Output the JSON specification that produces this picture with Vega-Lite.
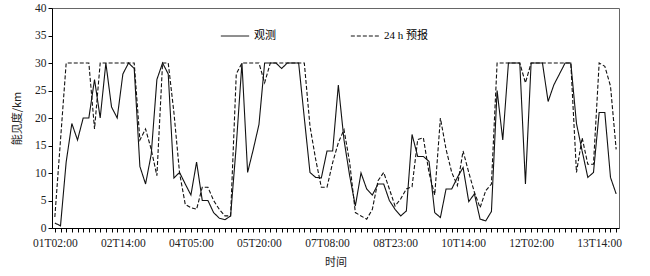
{
  "$schema": "https://vega.github.io/schema/vega-lite/v6.json",
  "autosize": "none",
  "width": 567,
  "height": 220,
  "padding": {"left": 52, "top": 8, "right": 31, "bottom": 48},
  "background": "white",
  "config": {
    "font": "Liberation Serif, Noto Sans CJK SC",
    "view": {"stroke": "#666", "strokeWidth": 1},
    "axis": {"domainColor": "#000", "tickColor": "#000", "labelColor": "#222", "titleColor": "#222", "grid": false, "labelFont": "Liberation Serif, Noto Sans CJK SC", "titleFont": "Noto Sans CJK SC", "titleFontWeight": "normal"}
  },
  "data": {"values": [
    {"time":"01T02:00","观测":0.9,"24 h 预报":2},
    {"time":"01T05:00","观测":0.4,"24 h 预报":16},
    {"time":"01T08:00","观测":12,"24 h 预报":30},
    {"time":"01T11:00","观测":19,"24 h 预报":30},
    {"time":"01T14:00","观测":16,"24 h 预报":30},
    {"time":"01T17:00","观测":20,"24 h 预报":30},
    {"time":"01T20:00","观测":20,"24 h 预报":30},
    {"time":"01T23:00","观测":27,"24 h 预报":18},
    {"time":"02T02:00","观测":20,"24 h 预报":30},
    {"time":"02T05:00","观测":30,"24 h 预报":30},
    {"time":"02T08:00","观测":22,"24 h 预报":30},
    {"time":"02T11:00","观测":20,"24 h 预报":30},
    {"time":"02T14:00","观测":28,"24 h 预报":30},
    {"time":"02T17:00","观测":30,"24 h 预报":30},
    {"time":"02T20:00","观测":29,"24 h 预报":30},
    {"time":"02T23:00","观测":11.2,"24 h 预报":16},
    {"time":"03T02:00","观测":8,"24 h 预报":18},
    {"time":"03T05:00","观测":13.4,"24 h 预报":14.3},
    {"time":"03T08:00","观测":27,"24 h 预报":9.5},
    {"time":"03T11:00","观测":30,"24 h 预报":30},
    {"time":"03T14:00","观测":28,"24 h 预报":30},
    {"time":"03T17:00","观测":9.1,"24 h 预报":21},
    {"time":"03T20:00","观测":10.1,"24 h 预报":10},
    {"time":"03T23:00","观测":8,"24 h 预报":4.3},
    {"time":"04T05:00","观测":6,"24 h 预报":3.7},
    {"time":"04T08:00","观测":12,"24 h 预报":3.4},
    {"time":"04T11:00","观测":5,"24 h 预报":7.4},
    {"time":"04T14:00","观测":5,"24 h 预报":7.4},
    {"time":"04T17:00","观测":2.8,"24 h 预报":5},
    {"time":"04T20:00","观测":1.8,"24 h 预报":3.4},
    {"time":"04T23:00","观测":1.5,"24 h 预报":2.2},
    {"time":"05T02:00","观测":2.2,"24 h 预报":2.2},
    {"time":"05T05:00","观测":15,"24 h 预报":28},
    {"time":"05T08:00","观测":30,"24 h 预报":30},
    {"time":"05T11:00","观测":10.1,"24 h 预报":30},
    {"time":"05T14:00","观测":14.3,"24 h 预报":30},
    {"time":"05T20:00","观测":18.8,"24 h 预报":30},
    {"time":"05T23:00","观测":30,"24 h 预报":26.4},
    {"time":"06T02:00","观测":30,"24 h 预报":30},
    {"time":"06T05:00","观测":30,"24 h 预报":30},
    {"time":"06T08:00","观测":29,"24 h 预报":30},
    {"time":"06T11:00","观测":30,"24 h 预报":30},
    {"time":"06T14:00","观测":30,"24 h 预报":30},
    {"time":"06T17:00","观测":30,"24 h 预报":30},
    {"time":"06T20:00","观测":20,"24 h 预报":30},
    {"time":"06T23:00","观测":10.1,"24 h 预报":18.5},
    {"time":"07T02:00","观测":9.2,"24 h 预报":12.5},
    {"time":"07T05:00","观测":9.1,"24 h 预报":7.4},
    {"time":"07T08:00","观测":14,"24 h 预报":7.4},
    {"time":"07T11:00","观测":14,"24 h 预报":11.9},
    {"time":"07T14:00","观测":26,"24 h 预报":15.5},
    {"time":"07T17:00","观测":16,"24 h 预报":17.9},
    {"time":"07T20:00","观测":9.5,"24 h 预报":11.9},
    {"time":"07T23:00","观测":4,"24 h 预报":2.8},
    {"time":"08T02:00","观测":10,"24 h 预报":2.2},
    {"time":"08T05:00","观测":7.1,"24 h 预报":1.6},
    {"time":"08T08:00","观测":6,"24 h 预报":3.4},
    {"time":"08T11:00","观测":8,"24 h 预报":8.6},
    {"time":"08T14:00","观测":8,"24 h 预报":10.1},
    {"time":"08T17:00","观测":5,"24 h 预报":7.1},
    {"time":"08T23:00","观测":3.4,"24 h 预报":4},
    {"time":"09T02:00","观测":2.2,"24 h 预报":5.3},
    {"time":"09T05:00","观测":3.1,"24 h 预报":7.1},
    {"time":"09T08:00","观测":17,"24 h 预报":7.5},
    {"time":"09T11:00","观测":13,"24 h 预报":16.1},
    {"time":"09T14:00","观测":13,"24 h 预报":16.4},
    {"time":"09T17:00","观测":12.1,"24 h 预报":10},
    {"time":"09T20:00","观测":2.8,"24 h 预报":6},
    {"time":"09T23:00","观测":1.9,"24 h 预报":20},
    {"time":"10T02:00","观测":7.1,"24 h 预报":14.3},
    {"time":"10T05:00","观测":7.1,"24 h 预报":10.1},
    {"time":"10T08:00","观测":9.2,"24 h 预报":7.7},
    {"time":"10T14:00","观测":11,"24 h 预报":14},
    {"time":"10T17:00","观测":4.8,"24 h 预报":10.1},
    {"time":"10T20:00","观测":6.2,"24 h 预报":6.5},
    {"time":"10T23:00","观测":1.6,"24 h 预报":3.7},
    {"time":"11T02:00","观测":1.3,"24 h 预报":6.8},
    {"time":"11T05:00","观测":3,"24 h 预报":8},
    {"time":"11T08:00","观测":25,"24 h 预报":30},
    {"time":"11T11:00","观测":16,"24 h 预报":30},
    {"time":"11T14:00","观测":30,"24 h 预报":30},
    {"time":"11T17:00","观测":30,"24 h 预报":30},
    {"time":"11T20:00","观测":30,"24 h 预报":30},
    {"time":"11T23:00","观测":8,"24 h 预报":26.4},
    {"time":"12T02:00","观测":30,"24 h 预报":30},
    {"time":"12T05:00","观测":30,"24 h 预报":30},
    {"time":"12T08:00","观测":30,"24 h 预报":30},
    {"time":"12T11:00","观测":23,"24 h 预报":30},
    {"time":"12T14:00","观测":26,"24 h 预报":30},
    {"time":"12T17:00","观测":28,"24 h 预报":30},
    {"time":"12T20:00","观测":30,"24 h 预报":30},
    {"time":"12T23:00","观测":30,"24 h 预报":30},
    {"time":"13T02:00","观测":19,"24 h 预报":10.1},
    {"time":"13T05:00","观测":14,"24 h 预报":16.4},
    {"time":"13T08:00","观测":9.2,"24 h 预报":11.6},
    {"time":"13T11:00","观测":10.1,"24 h 预报":11.6},
    {"time":"13T14:00","观测":21,"24 h 预报":30},
    {"time":"13T17:00","观测":21,"24 h 预报":29.4},
    {"time":"13T20:00","观测":9.2,"24 h 预报":25.8},
    {"time":"13T23:00","观测":6.2,"24 h 预报":14.3}
  ]},
  "transform": [{"fold": ["观测", "24 h 预报"], "as": ["series", "value"]}],
  "mark": {"type": "line", "strokeWidth": 1.1, "color": "#111"},
  "encoding": {
    "x": {
      "field": "time", "type": "ordinal",
      "scale": {"type": "point", "padding": 0.5},
      "axis": {
        "title": "时间", "titleFontSize": 11, "titlePadding": 8,
        "labelAngle": 0, "labelFontSize": 11.5, "labelPadding": 5, "tickSize": 4,
        "labelOverlap": false,
        "labelExpr": "indexof(['01T02:00','02T14:00','04T05:00','05T20:00','07T08:00','08T23:00','10T14:00','12T02:00','13T14:00'], datum.value) >= 0 ? datum.value : ''"
      }
    },
    "y": {
      "field": "value", "type": "quantitative",
      "scale": {"domain": [0, 40], "nice": false},
      "axis": {"title": "能见度/km", "titleFontSize": 11, "titlePadding": 12, "values": [0,5,10,15,20,25,30,35,40], "labelFontSize": 11.5, "tickSize": 4, "labelPadding": 2}
    },
    "strokeDash": {
      "field": "series", "type": "nominal",
      "scale": {"domain": ["观测", "24 h 预报"], "range": [[1, 0], [4, 2]]},
      "legend": {
        "title": null, "orient": "none", "legendX": 168, "legendY": 13,
        "direction": "horizontal", "symbolType": "stroke", "symbolSize": 800,
        "symbolStrokeWidth": 1, "symbolStrokeColor": "#111", "labelFontSize": 11,
        "labelFont": "Liberation Serif, Noto Sans CJK SC", "columnPadding": 72, "labelOffset": 4
      }
    }
  }
}
